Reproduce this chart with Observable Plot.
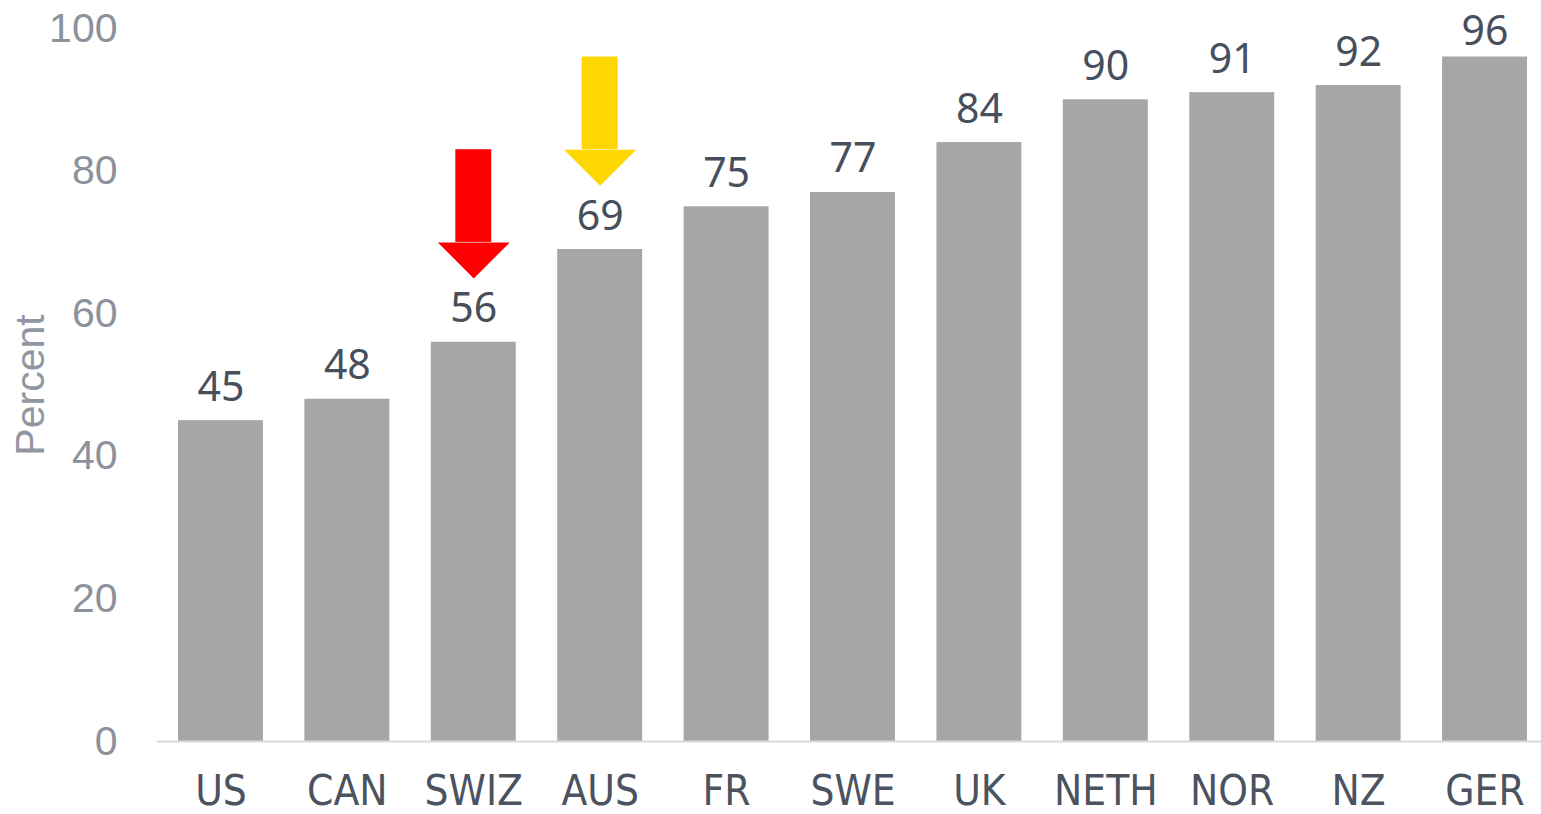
<!DOCTYPE html>
<html>
<head>
<meta charset="utf-8">
<script src="https://cdn.jsdelivr.net/npm/d3@7"></script>
<script src="https://cdn.jsdelivr.net/npm/@observablehq/plot@0.6"></script>
<style>
  html, body { margin: 0; padding: 0; background: #fff; overflow: hidden; }
  #chart svg { display: block; }
</style>
</head>
<body>
<div id="chart"></div>
<script>
// Data
const countries = ["US", "CAN", "SWIZ", "AUS", "FR", "SWE", "UK", "NETH", "NOR", "NZ", "GER"];
const percents = [45, 48, 56, 69, 75, 77, 84, 90, 91, 92, 96];
const yTicks = [0, 20, 40, 60, 80, 100];
const arrowCountries = ["SWIZ", "AUS"];
const arrowColors = ["#FF0000", "#FFD700"];

const data = countries.map((c, i) => ({country: c, value: percents[i]}));
const arrows = arrowCountries.map((c, i) => ({
  country: c,
  value: percents[countries.indexOf(c)],
  color: arrowColors[i]
}));

// arrow geometry (offsets above the bar value, in percent units)
const headBase = 14, shaftTop = 27;
const headSymbol = {
  draw(context) {
    context.moveTo(-36, 0);
    context.lineTo(36, 0);
    context.lineTo(0, 36);
    context.closePath();
  }
};

const labelStyle = {
  x: "country", y: "value", text: d => String(d.value),
  lineAnchor: "bottom", fontSize: 41, fill: "#474F5C",
  fontFamily: "'Noto Sans', sans-serif"
};

const W = 1541, H = 814;
const chart = Plot.plot({
  width: W,
  height: H,
  marginTop: 28,
  marginBottom: 73,
  marginLeft: 157,
  marginRight: 0,
  style: {background: "white", overflow: "hidden"},
  x: {domain: countries, range: [157, 1548], round: false, paddingInner: 0.328, paddingOuter: 0.166, align: 0.5, label: null},
  y: {domain: [0, 100], label: null},
  marks: [
    Plot.barY(data, {x: "country", y: "value", fill: "#A6A6A6"}),
    Plot.ruleY([0], {stroke: "#D9D9D9", strokeWidth: 2}),
    Plot.axisY({
      ticks: yTicks, tickSize: 0, tickPadding: 40, label: null,
      fontSize: 41, fill: "#8C929C", fontFamily: "'Liberation Sans', Arial, sans-serif"
    }),
    Plot.axisX({
      tickSize: 0, tickPadding: 34, label: null,
      fontSize: 42, fill: "#4B5260", fontFamily: "'DejaVu Sans Condensed', 'Noto Sans', sans-serif"
    }),
    Plot.text(data.filter(d => d.value < 95), {...labelStyle, dy: -20}),
    Plot.text(data.filter(d => d.value >= 95), {...labelStyle, dy: -12}),
    Plot.text(["Percent"], {
      frameAnchor: "left", textAnchor: "middle", rotate: -90, dx: -127, fontSize: 41,
      fill: "#9097A3", fontFamily: "'Liberation Sans', Arial, sans-serif"
    }),
    Plot.rectY(arrows, {
      x: "country", y1: d => d.value + headBase, y2: d => d.value + shaftTop,
      fill: "color", insetLeft: 24.5, insetRight: 24.5
    }),
    Plot.dot(arrows, {
      x: "country", y: d => d.value + headBase, symbol: headSymbol,
      fill: "color", stroke: "none", r: 10
    })
  ]
});
document.getElementById("chart").appendChild(chart);
</script>
</body>
</html>
